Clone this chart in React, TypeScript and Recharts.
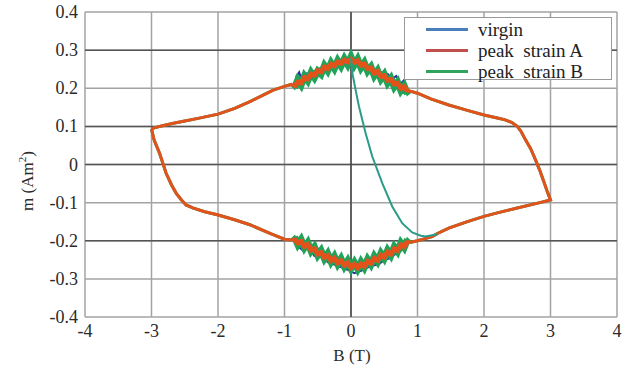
import React from 'react';
import { LineChart, Line, XAxis, YAxis, CartesianGrid, ReferenceLine, Legend, Label } from 'recharts';

// smooth parts of the loop (B in T, m in Am^2)
const upperLeftB = [-3.0, -2.96, -2.85, -2.67, -2.5, -2.3, -2.0, -1.75, -1.52, -1.3, -1.17, -1.0, -0.9];
const upperLeftM = [0.093, 0.096, 0.101, 0.108, 0.114, 0.121, 0.132, 0.147, 0.165, 0.184, 0.195, 0.205, 0.21];
const upperRightB = [0.9, 1.0, 1.2, 1.47, 1.75, 2.0, 2.2, 2.32, 2.42, 2.5, 2.56, 2.62, 2.7, 2.77, 2.84, 2.9, 2.95, 3.0];
const upperRightM = [0.192, 0.187, 0.172, 0.156, 0.142, 0.13, 0.122, 0.117, 0.11, 0.1, 0.086, 0.066, 0.042, 0.014, -0.016, -0.045, -0.07, -0.093];
const lowerRightB = [3.0, 2.84, 2.5, 2.2, 2.0, 1.75, 1.47, 1.3, 1.22, 1.1, 1.0, 0.9];
const lowerRightM = [-0.093, -0.1, -0.114, -0.127, -0.136, -0.15, -0.167, -0.181, -0.189, -0.195, -0.2, -0.204];
const lowerLeftB = [-0.9, -1.0, -1.2, -1.52, -1.75, -2.01, -2.2, -2.38, -2.48, -2.55, -2.63, -2.7, -2.78, -2.88, -2.96, -3.0];
const lowerLeftM = [-0.198, -0.196, -0.182, -0.158, -0.145, -0.132, -0.124, -0.114, -0.106, -0.093, -0.075, -0.053, -0.023, 0.03, 0.064, 0.093];

// noisy stretch around B = 0
const noiseB = [-0.85, -0.8, -0.75, -0.7, -0.65, -0.6, -0.55, -0.5, -0.45, -0.4, -0.35, -0.3, -0.25, -0.2, -0.15, -0.1, -0.05, 0,
  0.05, 0.1, 0.15, 0.2, 0.25, 0.3, 0.35, 0.4, 0.45, 0.5, 0.55, 0.6, 0.65, 0.7, 0.75, 0.8, 0.85];
const redTopM = [0.205, 0.216, 0.214, 0.228, 0.225, 0.237, 0.234, 0.246, 0.243, 0.256, 0.252, 0.263, 0.259, 0.269, 0.265, 0.274, 0.269, 0.276,
  0.268, 0.272, 0.261, 0.264, 0.252, 0.253, 0.24, 0.244, 0.231, 0.233, 0.221, 0.223, 0.211, 0.213, 0.2, 0.204, 0.192];
const redBottomM = [-0.196, -0.206, -0.202, -0.215, -0.21, -0.224, -0.221, -0.235, -0.231, -0.244, -0.239, -0.252, -0.246, -0.258, -0.252, -0.264, -0.258, -0.27,
  -0.262, -0.271, -0.261, -0.267, -0.254, -0.259, -0.246, -0.251, -0.238, -0.243, -0.23, -0.235, -0.221, -0.225, -0.211, -0.215, -0.202];
const greenTopM = [0.201, 0.222, 0.209, 0.232, 0.22, 0.241, 0.228, 0.245, 0.237, 0.259, 0.246, 0.266, 0.252, 0.272, 0.258, 0.277, 0.262, 0.282,
  0.261, 0.276, 0.254, 0.267, 0.245, 0.256, 0.233, 0.246, 0.224, 0.236, 0.214, 0.226, 0.204, 0.216, 0.194, 0.206, 0.185];
const greenBottomM = [-0.19, -0.21, -0.197, -0.218, -0.205, -0.227, -0.216, -0.238, -0.226, -0.247, -0.234, -0.255, -0.241, -0.261, -0.247, -0.267, -0.253, -0.272,
  -0.257, -0.274, -0.256, -0.27, -0.249, -0.262, -0.241, -0.254, -0.233, -0.246, -0.225, -0.238, -0.216, -0.228, -0.206, -0.218, -0.196];
const blueTopB = [-0.85, -0.82, -0.78, -0.75, -0.7, -0.6, -0.4, -0.2, -0.02, 0, 0.03, 0.2, 0.4, 0.55, 0.62, 0.68, 0.75, 0.8, 0.85];
const blueTopM = [0.205, 0.232, 0.242, 0.226, 0.238, 0.24, 0.258, 0.268, 0.28, 0.292, 0.272, 0.264, 0.245, 0.238, 0.224, 0.232, 0.212, 0.222, 0.196];
const blueBottomB = [-0.85, -0.8, -0.72, -0.65, -0.55, -0.45, -0.35, -0.2, -0.05, 0.05, 0.15, 0.3, 0.42, 0.5, 0.58, 0.66, 0.75, 0.8, 0.85];
const blueBottomM = [-0.196, -0.214, -0.226, -0.212, -0.24, -0.232, -0.256, -0.266, -0.276, -0.285, -0.279, -0.266, -0.262, -0.25, -0.246, -0.236, -0.226, -0.214, -0.205];

// initial curve, drawn in teal
const initialB = [0, 0.02, 0.07, 0.12, 0.22, 0.32, 0.47, 0.62, 0.77, 0.92, 1.05, 1.12, 1.3];
const initialM = [0.28, 0.24, 0.195, 0.152, 0.082, 0.021, -0.049, -0.11, -0.154, -0.178, -0.187, -0.189, -0.183];

const xTicks = [-4, -3, -2, -1, 0, 1, 2, 3, 4];
const yTicks = [-0.4, -0.3, -0.2, -0.1, 0, 0.1, 0.2, 0.3, 0.4];
const darkRows = [0.3, 0.1, 0, -0.2];
const legendNames = ['virgin', 'peak  strain A', 'peak  strain B'];

const zip = (bs: number[], ms: number[]) => bs.map((b, i) => ({ b, m: ms[i] }));

const loop = (topB: number[], topM: number[], botB: number[], botM: number[]) => [
  ...zip(upperLeftB, upperLeftM),
  ...zip(topB, topM),
  ...zip(upperRightB, upperRightM),
  ...zip(lowerRightB, lowerRightM),
  ...zip(botB, botM).reverse(),
  ...zip(lowerLeftB, lowerLeftM),
];

const virginData = loop(blueTopB, blueTopM, blueBottomB, blueBottomM);
const strainAData = loop(noiseB, redTopM, noiseB, redBottomM);
const strainBData = loop(noiseB, greenTopM, noiseB, greenBottomM);
const initialData = zip(initialB, initialM);

const font = '"Liberation Serif", "Times New Roman", serif';
const RED = '#e4521c';
const GREEN = '#22a35a';
const BLUE = '#2a2fa6';
const legendColors: Record<string, string> = {
  'virgin': '#4a7ebb',
  'peak  strain A': '#c0504d',
  'peak  strain B': '#2ea45f',
};

const LegendBox = () => (
  <div style={{ border: '1.5px solid #999', background: '#fff', width: 208, height: 63, boxSizing: 'border-box', paddingTop: 1, fontFamily: font }}>
    {legendNames.map((n) => (
      <div key={n} style={{ display: 'flex', alignItems: 'center', height: 21 }}>
        <div style={{ width: 42, height: 3, background: legendColors[n], marginLeft: 21, marginRight: 10 }} />
        <span style={{ fontFamily: font, fontSize: 19, color: '#222', whiteSpace: 'pre', lineHeight: '21px' }}>{n}</span>
      </div>
    ))}
  </div>
);

const renderXTick = (props: any) => (
  <text key={`x${props.index}`} x={props.x} y={props.y + 20} textAnchor="middle" style={{ fontFamily: font, fontSize: 18 }} fill="#2a2a2a">
    {props.payload.value}
  </text>
);

const renderYTick = (props: any) => {
  const v = props.payload.value as number;
  return (
    <text key={`y${props.index}`} x={props.x} y={props.y + 6} textAnchor="end" style={{ fontFamily: font, fontSize: 18 }} fill="#2a2a2a">
      {v === 0 ? '0' : v.toFixed(1)}
    </text>
  );
};

export default function App() {
  return (
    <div style={{ position: 'absolute', left: 0, top: 0, background: '#fff', fontFamily: font }}>
      <LineChart width={632} height={376} margin={{ top: 12, right: 15, left: 0, bottom: 0 }}>
        <CartesianGrid stroke="#a3a3a3" strokeWidth={1.5} horizontalValues={yTicks} verticalValues={xTicks} />
        {darkRows.map((v) => (
          <ReferenceLine key={v} y={v} stroke="#555" strokeWidth={1.5} />
        ))}
        <ReferenceLine x={0} stroke="#444" strokeWidth={1.5} />
        <XAxis
          type="number"
          dataKey="b"
          domain={[-4, 4]}
          ticks={xTicks}
          height={59}
          axisLine={false}
          tickLine={false}
          tickSize={0}
          tickMargin={0}
          tick={renderXTick}
          allowDataOverflow
        >
          <Label
            content={() => (
              <text x={352} y={361} textAnchor="middle" style={{ fontFamily: font, fontSize: 17 }} fill="#2a2a2a">B (T)</text>
            )}
          />
        </XAxis>
        <YAxis
          type="number"
          dataKey="m"
          domain={[-0.4, 0.4]}
          ticks={yTicks}
          width={85}
          axisLine={false}
          tickLine={false}
          tickSize={0}
          tickMargin={7}
          tick={renderYTick}
          allowDataOverflow
        >
          <Label
            content={() => (
              <text x={33} y={181} textAnchor="middle" style={{ fontFamily: font, fontSize: 17 }} fill="#2a2a2a" transform="rotate(-90 33 181)">
                <tspan>m (Am</tspan>
                <tspan dy={-7} fontSize={11}>2</tspan>
                <tspan dy={7}>)</tspan>
              </text>
            )}
          />
        </YAxis>
        <Line data={virginData} dataKey="m" name="virgin" stroke={BLUE} strokeWidth={2} dot={false} type="linear" isAnimationActive={false} />
        <Line data={strainBData} dataKey="m" name="peak  strain B" stroke={GREEN} strokeWidth={3} dot={false} type="linear" isAnimationActive={false} />
        <Line data={zip(noiseB, greenTopM)} dataKey="m" name="B top" legendType="none" stroke={GREEN} strokeWidth={7} dot={false} type="linear" isAnimationActive={false} />
        <Line data={zip(noiseB, greenBottomM)} dataKey="m" name="B bottom" legendType="none" stroke={GREEN} strokeWidth={7} dot={false} type="linear" isAnimationActive={false} />
        <Line data={strainAData} dataKey="m" name="peak  strain A" stroke={RED} strokeWidth={3} dot={false} type="linear" isAnimationActive={false} />
        <Line data={zip(noiseB, redTopM)} dataKey="m" name="A top" legendType="none" stroke={RED} strokeWidth={5} dot={false} type="linear" isAnimationActive={false} />
        <Line data={zip(noiseB, redBottomM)} dataKey="m" name="A bottom" legendType="none" stroke={RED} strokeWidth={5} dot={false} type="linear" isAnimationActive={false} />
        <Line data={initialData} dataKey="m" name="initial" legendType="none" stroke="#2a9b88" strokeWidth={2} dot={false} type="linear" isAnimationActive={false} />
        <Legend
          layout="horizontal"
          verticalAlign="middle"
          align="center"
          content={() => <LegendBox />}
          wrapperStyle={{ position: 'absolute', left: 404, top: 17, width: 210, height: 65 }}
        />
      </LineChart>
    </div>
  );
}
